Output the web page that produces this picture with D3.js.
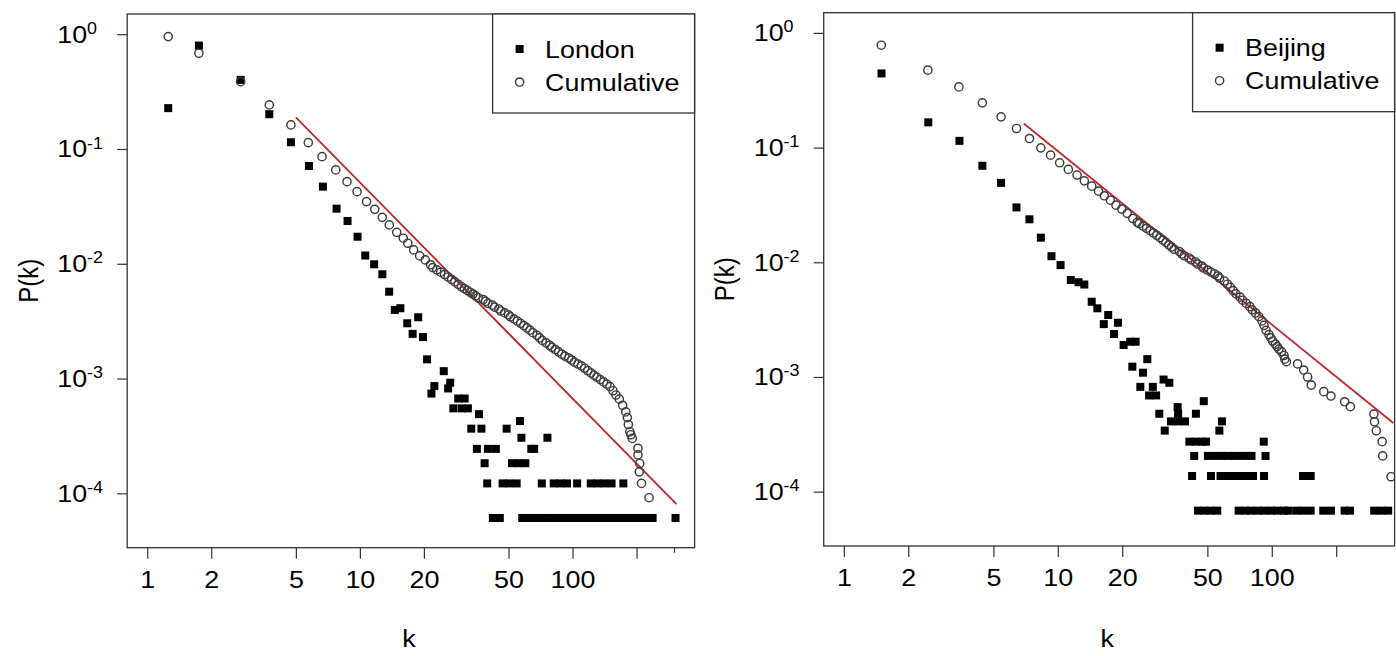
<!DOCTYPE html>
<html><head><meta charset="utf-8">
<script src="https://cdn.jsdelivr.net/npm/d3@7"></script>
<style>
body{margin:0;background:#fff}
svg{display:block}
text{font-family:"Liberation Sans",Arial,Helvetica,sans-serif;fill:#000}
</style></head>
<body><svg id="chart" width="1396" height="656"></svg>
<script>
// ---------------- data ----------------
const xTicks = [1, 2, 5, 10, 20, 50, 100, 200];
const xTickLabels = ["1", "2", "5", "10", "20", "50", "100", ""];
const xTicksExtraLeft = [300];
const yTicks = [1, 0.1, 0.01, 0.001, 0.0001];
const yTickExponents = ["0", "-1", "-2", "-3", "-4"];
const seriesNames = ["London", "Beijing"];

// London degree distribution P(k) (filled squares), [k, P]
const londonDegree = [
  [1.255,0.227],[1.75,0.796],[2.75,0.40],[3.75,0.201],[4.74,0.1145],[5.76,0.0711],[6.70,0.047],
  [7.77,0.0302],[8.75,0.0236],[9.75,0.0172],[10.6,0.0118],[11.67,0.0099],[12.75,0.0081],
  [13.73,0.00571],[14.6,0.00396],[15.5,0.0041],[16.7,0.00303],[17.7,0.00245],[18.8,0.00342],
  [19.8,0.0023],[20.7,0.00147],[21.7,0.00074],[22.4,0.00086],[24.8,0.00116],[26.0,0.00082],
  [26.6,0.00092],[27.5,0.00055],[29.0,0.00067],[30.1,0.00055],[31.1,0.00067],[32.2,0.00055],
  [33.4,0.000366],[36.3,0.00049],[37.3,0.000366],[49.0,0.000366],[56.6,0.000427],
  [57.5,0.000305],[76.2,0.000305],
  [35.5,0.000244],[40.0,0.000244],[43.6,0.000244],[64,0.000244],[66,0.000244],
  [38.6,0.000183],[51.9,0.000183],[55.7,0.000183],[60.0,0.000183],
  [39.7,0.000122],[46.9,0.000122],[50.4,0.000122],[54.6,0.000122],[71.7,0.000122],[81.6,0.000122],
  [87.7,0.000122],[94.2,0.000122],[105.1,0.000122],[121.8,0.000122],[131.1,0.000122],
  [141.2,0.000122],[152.6,0.000122],[173.4,0.000122],
  [42.2,0.000061],[45.5,0.000061],[58,0.000061],[62,0.000061],[66,0.000061],[71,0.000061],
  [75,0.000061],[81,0.000061],[86,0.000061],[92,0.000061],[98,0.000061],[105,0.000061],
  [112,0.000061],[119,0.000061],[127,0.000061],[136,0.000061],[145,0.000061],[155,0.000061],
  [165,0.000061],[176,0.000061],[188,0.000061],[200,0.000061],[214,0.000061],[228,0.000061],
  [238,0.000061],[305,0.000061]
];

// London cumulative distribution (open circles), [k, P]
const londonCumulative = [
  [1.255,0.953],[1.75,0.683],[2.75,0.386],[3.75,0.242],[4.74,0.162],[5.72,0.1136],[6.64,0.0858],
  [7.7,0.0657],[8.7,0.0519],[9.7,0.0425],[10.75,0.0348],[11.75,0.0298],[12.75,0.0254],
  [13.75,0.0218],[14.9,0.0188],[16,0.0167],[16.8,0.0151],[17.9,0.0132],[19.1,0.0117],
  [20.3,0.0108],[21.5,0.0098],
  [22,0.00927],[23,0.00885],[24,0.00845],[25,0.00805],[26,0.00767],[27,0.00729],[28,0.00695],
  [29,0.00662],[30,0.00631],[31,0.00608],[32,0.00586],[33,0.00565],[34,0.00545],[35,0.00525],
  [36,0.00506],[38,0.00488],[39,0.0047],[40,0.00452],[42,0.00436],[43,0.00419],[45,0.00404],
  [46,0.00388],[48,0.00373],[50,0.00359],[51,0.00345],[53,0.00331],[55,0.00316],[57,0.00303],
  [59,0.00289],[61,0.00276],[63,0.00264],[65,0.00251],[68,0.00238],[70,0.00226],[72,0.00215],
  [75,0.00205],[78,0.00195],[80,0.00187],[83,0.00179],[86,0.00171],[89,0.00163],[92,0.00157],
  [96,0.00151],[99,0.00145],[102,0.00139],[106,0.00134],[110,0.00129],[114,0.00123],
  [118,0.00117],[122,0.00112],[126,0.00107],[130,0.00103],[135,0.000979],[140,0.000935],
  [145,0.000893],[150,0.000851],[155,0.000783],[160,0.000719],[166,0.000661],[172,0.000585],
  [178,0.000512],[181,0.000457],[183,0.000398],[186,0.000344],[188,0.000324],[191,0.000301],
  [203,0.000247],[203,0.000216],[207,0.000182],[206,0.000154],[211,0.000122],[229,0.0000916]
];

// Beijing degree distribution P(k) (filled squares), [k, P]
const beijingDegree = [
  [1.5,0.443],[2.48,0.166],[3.47,0.1145],[4.44,0.0694],[5.43,0.0493],[6.41,0.0301],[7.37,0.0237],
  [8.33,0.0164],[9.34,0.0113],[10.3,0.00945],[11.5,0.0070],[12.5,0.0067],[13.3,0.0064],
  [14.4,0.00453],[15.3,0.00397],[16.4,0.00289],[17.2,0.00347],[18.3,0.00237],[19.1,0.00297],
  [20.3,0.0019],[21.8,0.00203],[23.1,0.00203],[22.3,0.00123],[26.2,0.00143],[25.0,0.00109],
  [24.3,0.00082],[26.7,0.00069],[28.8,0.00069],[27.8,0.00082],[31.2,0.00095],[33.2,0.00089],
  [29.8,0.000478],[36.3,0.000546],[36.5,0.000478],[44.2,0.000478],[48.1,0.000615],
  [31.6,0.000341],[56.9,0.000341],[33.8,0.00041],[36.4,0.00041],[39.3,0.00041],[58.5,0.00041],
  [41.2,0.000273],[44.2,0.000273],[47.4,0.000273],[49.3,0.000273],[91.7,0.000273],
  [43.4,0.000205],[50.3,0.000205],[54.0,0.000205],[57.9,0.000205],[62.1,0.000205],[66.6,0.000205],
  [71.8,0.000205],[77.1,0.000205],[80.4,0.000205],[93.5,0.000205],
  [42.4,0.000137],[52,0.000137],[57.6,0.000137],[61.8,0.000137],[66.3,0.000137],[71.1,0.000137],
  [76.2,0.000137],[81.7,0.000137],[92,0.000137],[140,0.000137],[152,0.000137],
  [45.2,0.0000683],[48.4,0.0000683],[51.9,0.0000683],[55.6,0.0000683],[70,0.0000683],
  [75,0.0000683],[80,0.0000683],[86,0.0000683],[92,0.0000683],[99,0.0000683],[106,0.0000683],
  [114,0.0000683],[119,0.0000683],[130,0.0000683],[140,0.0000683],[152,0.0000683],
  [174,0.0000683],[189,0.0000683],[219,0.0000683],[232,0.0000683],[301,0.0000683],
  [325,0.0000683],[350,0.0000683]
];

// Beijing cumulative distribution (open circles), [k, P]
const beijingCumulative = [
  [1.496,0.781],[2.47,0.473],[3.45,0.338],[4.44,0.2455],[5.43,0.1853],[6.41,0.1468],[7.37,0.120],
  [8.33,0.0995],[9.25,0.0859],[10.2,0.0737],[11.2,0.0645],[12.3,0.0576],[13.3,0.0513],
  [14.4,0.0461],[15.5,0.0417],[16.5,0.038],[17.6,0.0348],[18.7,0.0315],[19.9,0.0291],
  [21.1,0.0267],[22.4,0.0241],[23.5,0.0223],
  [24,0.0217],[25,0.0207],[26,0.0198],[27,0.0189],[28,0.018],[29,0.0172],[30,0.0164],[31,0.0156],
  [32,0.0149],[33,0.0142],[34,0.0136],[35,0.013],[37,0.0124],[38,0.0118],[39,0.0114],[41,0.0109],
  [42,0.0105],[44,0.01006],[45,0.00966],[47,0.00928],[48,0.00891],[50,0.00856],[52,0.00822],
  [54,0.00791],[56,0.0076],[57,0.00729],[60,0.00687],[62,0.00644],[64,0.00604],[66,0.00566],
  [68,0.00531],[71,0.00498],[73,0.00467],[76,0.00438],[79,0.0041],[81,0.00385],[84,0.00361],
  [87,0.00336],[90,0.00308],[92,0.00282],[94,0.00255],[97,0.00234],[99,0.00219],[101,0.00206],
  [104,0.00193],[106,0.00184],[108,0.00175],[111,0.00166],[114,0.00154],[115,0.00143],
  [117,0.00136],
  [132,0.0013],[141,0.00115],[147,0.001],[153,0.00085],[175,0.000745],[189,0.000682],
  [219,0.000608],[233,0.000551],[300,0.000475],[302,0.000407],[308,0.00034],[328,0.000273],
  [330,0.000205],[361,0.000135]
];

// fitted power-law lines (red), endpoints [k, P]
const londonFit = [[5.0,0.189],[308,0.0000807]];
const beijingFit = [[6.93,0.162],[370,0.000397]];

// ---------------- drawing ----------------
const svg = d3.select("#chart");
const xDomain = [0.805, 375];
const yDomain = [3.36e-5, 1.5];
const stretch = 1.12;
const sq = 8, half = sq / 2;

const panels = [
  {name: seriesNames[0], deg: londonDegree, cum: londonCumulative, fit: londonFit,
   left: 127.2, right: 694.6, top: 14, bottom: 547.7, extraTicks: xTicksExtraLeft, id: "p0"},
  {name: seriesNames[1], deg: beijingDegree, cum: beijingCumulative, fit: beijingFit,
   left: 823.7, right: 1394.6, top: 12.7, bottom: 546, extraTicks: [], id: "p1"}
];

panels.forEach(p => {
  const x = d3.scaleLog().domain(xDomain).range([p.left, p.right]);
  const y = d3.scaleLog().domain(yDomain).range([p.bottom, p.top]);
  const g = svg.append("g");

  g.append("clipPath").attr("id", "clip-" + p.id)
    .append("rect").attr("x", p.left).attr("y", p.top)
    .attr("width", p.right - p.left).attr("height", p.bottom - p.top);

  // x axis
  const xa = g.append("g").attr("transform", `translate(0,${p.bottom})`)
    .call(d3.axisBottom(x).tickValues(xTicks)
      .tickFormat((d, i) => xTickLabels[i]).tickSize(11).tickPadding(12));
  xa.select(".domain").remove();
  xa.selectAll(".tick line").attr("stroke", "#333").attr("stroke-width", 1.2);
  xa.selectAll(".tick text").attr("font-size", 24).attr("fill", "#000")
    .attr("font-family", '"Liberation Sans",Arial,sans-serif')
    .attr("transform", `scale(${stretch},1)`);
  if (p.extraTicks.length) {
    const xe = g.append("g").attr("transform", `translate(0,${p.bottom})`)
      .call(d3.axisBottom(x).tickValues(p.extraTicks).tickFormat("").tickSize(5));
    xe.select(".domain").remove();
    xe.selectAll(".tick line").attr("stroke", "#333").attr("stroke-width", 1.2);
  }

  // y axis
  const ya = g.append("g").attr("transform", `translate(${p.left},0)`)
    .call(d3.axisLeft(y).tickValues(yTicks).tickFormat("").tickSize(10));
  ya.select(".domain").remove();
  ya.selectAll(".tick line").attr("stroke", "#333").attr("stroke-width", 1.2);
  ya.selectAll(".tick").each(function(d, i) {
    const t = d3.select(this).append("text")
      .attr("transform", `translate(-70,8) scale(${stretch},1)`)
      .attr("text-anchor", "start").attr("font-size", 24).attr("fill", "#000")
      .attr("font-family", '"Liberation Sans",Arial,sans-serif');
    t.append("tspan").text("10");
    t.append("tspan").attr("dy", -9).attr("font-size", 16).text(yTickExponents[i]);
  });

  // axis titles
  g.append("text")
    .attr("transform", `translate(${p.left - 99},${(p.top + p.bottom) / 2}) rotate(-90) scale(1,${stretch})`)
    .attr("text-anchor", "middle").attr("dy", "0.35em").attr("font-size", 24).text("P(k)");
  g.append("text")
    .attr("transform", `translate(${(p.left + p.right) / 2 - 2},${647}) scale(${stretch},1)`)
    .attr("text-anchor", "middle").attr("font-size", 24).text("k");

  // data
  const plot = g.append("g").attr("clip-path", `url(#clip-${p.id})`);
  const line = d3.line().x(d => x(d[0])).y(d => y(d[1]));
  plot.append("path").datum(p.fit).attr("d", line)
    .attr("fill", "none").attr("stroke", "#c0282a").attr("stroke-width", 1.8);
  plot.selectAll("rect.sq").data(p.deg).join("rect").attr("class", "sq")
    .attr("x", d => x(d[0]) - half).attr("y", d => y(d[1]) - half)
    .attr("width", sq).attr("height", sq).attr("fill", "#000");
  plot.selectAll("circle.cu").data(p.cum).join("circle").attr("class", "cu")
    .attr("cx", d => x(d[0])).attr("cy", d => y(d[1])).attr("r", 4.1)
    .attr("fill", "none").attr("stroke", "#3c3c3c").attr("stroke-width", 1.45);

  // frame
  g.append("rect").attr("x", p.left).attr("y", p.top)
    .attr("width", p.right - p.left).attr("height", p.bottom - p.top)
    .attr("fill", "none").attr("stroke", "#333").attr("stroke-width", 1.3);

  // legend
  const lx = p.right - 202, ly = p.top;
  const lg = g.append("g");
  lg.append("rect").attr("x", lx).attr("y", ly).attr("width", 202).attr("height", 99)
    .attr("fill", "#fff").attr("stroke", "#333").attr("stroke-width", 1.3);
  lg.append("rect").attr("x", lx + 27 - half).attr("y", ly + 35 - half)
    .attr("width", sq).attr("height", sq).attr("fill", "#000");
  lg.append("circle").attr("cx", lx + 27).attr("cy", ly + 68).attr("r", 4.1)
    .attr("fill", "none").attr("stroke", "#3c3c3c").attr("stroke-width", 1.45);
  lg.append("text").attr("transform", `translate(${lx + 52.5},${ly + 43.5}) scale(${stretch},1)`)
    .attr("font-size", 24).text(p.name);
  lg.append("text").attr("transform", `translate(${lx + 52.5},${ly + 76.5}) scale(${stretch},1)`)
    .attr("font-size", 24).text("Cumulative");
});
</script></body></html>
